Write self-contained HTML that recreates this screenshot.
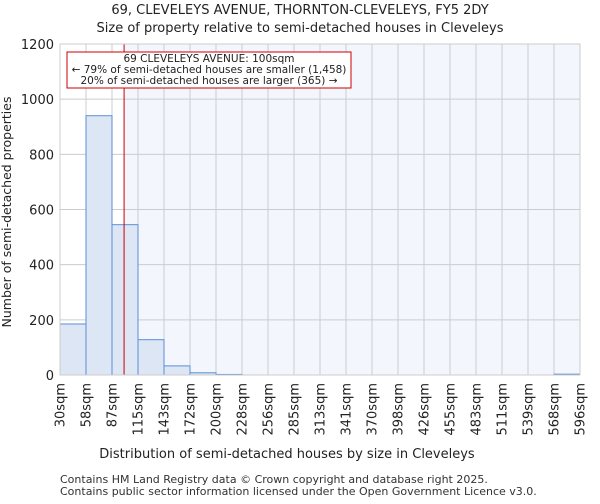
<!DOCTYPE html>
<html><head><meta charset="utf-8"><style>
body{margin:0;background:#fff;font-family:"DejaVu Sans","Liberation Sans",sans-serif;}
</style></head><body>
<svg width="600" height="500" xmlns="http://www.w3.org/2000/svg" font-family="DejaVu Sans, Liberation Sans, sans-serif">
<text x="300" y="14" text-anchor="middle" font-size="13" fill="#222">69, CLEVELEYS AVENUE, THORNTON-CLEVELEYS, FY5 2DY</text>
<text x="300" y="32" text-anchor="middle" font-size="13" fill="#222">Size of property relative to semi-detached houses in Cleveleys</text>
<g id="plot"></g>
<text x="287" y="458" text-anchor="middle" font-size="13" fill="#222">Distribution of semi-detached houses by size in Cleveleys</text>
<text transform="translate(11,212) rotate(-90)" text-anchor="middle" font-size="12.5" fill="#222">Number of semi-detached properties</text>
<text x="60" y="483" font-size="11" fill="#333">Contains HM Land Registry data © Crown copyright and database right 2025.</text>
<text x="60" y="495" font-size="11" fill="#333">Contains public sector information licensed under the Open Government Licence v3.0.</text>
</svg>
<script>
const edges=["30sqm","58sqm","87sqm","115sqm","143sqm","172sqm","200sqm","228sqm","256sqm","285sqm","313sqm","341sqm","370sqm","398sqm","426sqm","455sqm","483sqm","511sqm","539sqm","568sqm","596sqm"];
const counts=[185,940,545,128,33,8,2,0,0,0,0,0,0,0,0,0,0,0,0,3];
const yTicks=[0,200,400,600,800,1000,1200];
const markerBin=2+(100-87)/28;
const NS="http://www.w3.org/2000/svg";
const L=60,R=580,T=44,B=375,YMAX=1200;
const bw=(R-L)/counts.length;
const xs=i=>L+i*bw;
const ys=v=>B-v/YMAX*(B-T);
const g=document.getElementById('plot');
function mk(t,a,p){const e=document.createElementNS(NS,t);for(const k in a)e.setAttribute(k,a[k]);(p||g).appendChild(e);return e;}
const mx=xs(markerBin);
let e;
e=mk('rect',{x:L,y:T,width:R-L,height:B-T,fill:'#fff'});


e=mk('rect',{x:mx,y:T,width:R-mx,height:B-T,fill:'#f3f6fd'});


yTicks.forEach(v=>{
 e=mk('line',{x1:L,x2:R,y1:ys(v),y2:ys(v),stroke:'#ccc','stroke-width':1});
 
 
 e=mk('text',{x:L-6,y:ys(v)+5,'text-anchor':'end','font-size':13,fill:'#222'});
 e.textContent=v;
 
 
});
edges.forEach((lab,i)=>{
 e=mk('line',{x1:xs(i),x2:xs(i),y1:T,y2:B,stroke:'#ccc','stroke-width':1});
 
 
 e=mk('text',{transform:`translate(${xs(i)+4.5},${B+8}) rotate(-90)`,'text-anchor':'end','font-size':13,fill:'#222'});
 e.textContent=lab;
 
 
});
counts.forEach((c,i)=>{
 if(c<=0)return;
 e=mk('rect',{x:xs(i),y:ys(c),width:bw,height:B-ys(c),fill:'#dce6f4',stroke:'#5a8fd6','stroke-width':1});
 
 
});
e=mk('line',{x1:mx,x2:mx,y1:T,y2:B,stroke:'#cc0000','stroke-width':1});


e=mk('rect',{x:L,y:T,width:R-L,height:B-T,fill:'none',stroke:'#ccc'});


const ann=mk('g',{});


mk('rect',{x:67,y:52,width:284,height:36,fill:'#fff',stroke:'#cc0000','stroke-width':1},ann);
["69 CLEVELEYS AVENUE: 100sqm","← 79% of semi-detached houses are smaller (1,458)","20% of semi-detached houses are larger (365) →"].forEach((t,i)=>{
 const tx=mk('text',{x:209,y:62+i*11,'text-anchor':'middle','font-size':10.5,fill:'#222'},ann);
 tx.textContent=t;
 
 
});
</script>
</body></html>
